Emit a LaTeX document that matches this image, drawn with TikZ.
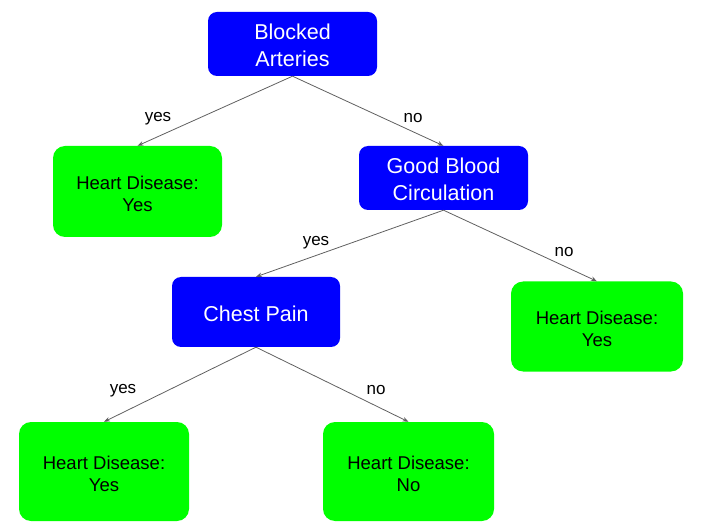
\documentclass[tikz,border=0pt]{standalone}
\usepackage{fontspec}
\setmainfont{Liberation Sans}
\usetikzlibrary{arrows.meta}
\definecolor{qblue}{HTML}{0000FF}
\definecolor{qgreen}{HTML}{00FF00}
\definecolor{edgegray}{HTML}{606060}
\begin{document}
\begin{tikzpicture}[x=1pt,y=-1pt,
  qbox/.style={draw=none,fill=qblue,rounded corners=9pt,inner sep=0pt},
  leaf/.style={draw=none,fill=qgreen,rounded corners=12pt,inner sep=0pt},
  qtext/.style={text=white,align=center,font=\fontsize{21.5}{26.5}\selectfont,inner sep=0pt,yshift=-1.5pt},
  ltext/.style={text=black,align=center,font=\fontsize{18.5}{22}\selectfont,inner sep=0pt,yshift=-2.5pt},
  edge/.style={draw=edgegray,line width=0.8pt,-{Stealth[length=6pt,width=4.5pt]}},
  lbl/.style={font=\fontsize{17}{20}\selectfont,inner sep=0pt}]
\useasboundingbox (0,0) rectangle (701,526);
\node[qbox,minimum width=169pt,minimum height=64pt] (ba) at (292.5,44) {};
\node[leaf,minimum width=169pt,minimum height=91pt] (l1) at (137.5,191.5) {};
\node[qbox,minimum width=169pt,minimum height=64pt] (gb) at (443.5,178) {};
\node[qbox,minimum width=168pt,minimum height=70pt] (cp) at (256,312) {};
\node[leaf,minimum width=172pt,minimum height=90pt] (l2) at (597,326.5) {};
\node[leaf,minimum width=170pt,minimum height=99pt] (l3) at (104,471.5) {};
\node[leaf,minimum width=171pt,minimum height=99pt] (l4) at (408.5,471.5) {};
\node[qtext] (tba) at (ba.center) {Blocked\\Arteries};
\node[ltext] (tl1) at (l1.center) {Heart Disease:\\Yes};
\node[qtext] (tgb) at (gb.center) {Good Blood\\Circulation};
\node[qtext] (tcp) at (cp.center) {Chest Pain};
\node[ltext] (tl2) at (l2.center) {Heart Disease:\\Yes};
\node[ltext] (tl3) at (l3.center) {Heart Disease:\\Yes};
\node[ltext] (tl4) at (l4.center) {Heart Disease:\\No};
\draw[edge] (ba.south) -- (l1.north);
\draw[edge] (ba.south) -- (gb.north);
\draw[edge] (gb.south) -- (cp.north);
\draw[edge] (gb.south) -- (l2.north);
\draw[edge] (cp.south) -- (l3.north);
\draw[edge] (cp.south) -- (l4.north);
\node[lbl] (y1) at (158,118.5) {yes};
\node[lbl] (n1) at (413,118.5) {no};
\node[lbl] (y2) at (316,242.5) {yes};
\node[lbl] (n2) at (564,252.5) {no};
\node[lbl] (y3) at (123,390.5) {yes};
\node[lbl] (n3) at (376,390.5) {no};
\end{tikzpicture}
\end{document}
